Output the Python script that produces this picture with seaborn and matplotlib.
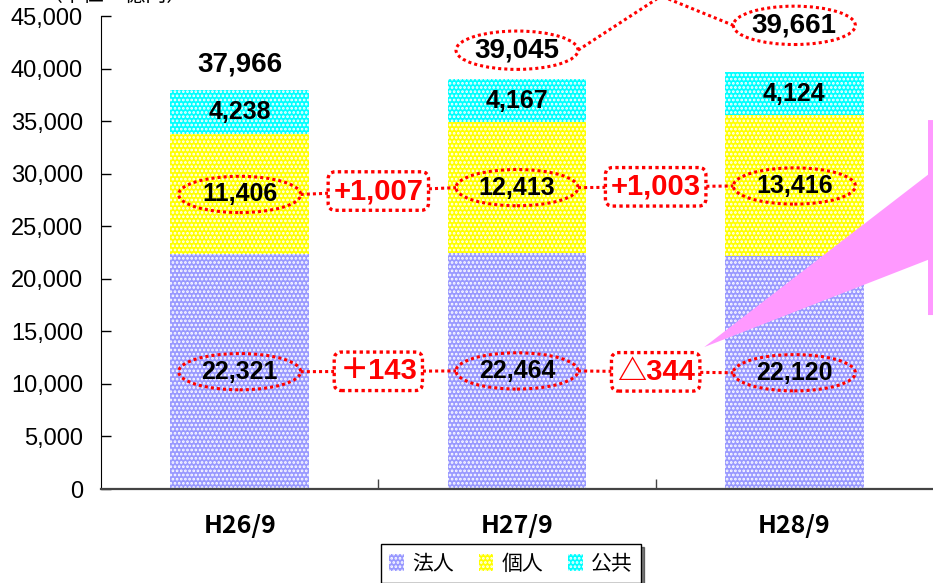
import numpy as np
import matplotlib
matplotlib.use('Agg')
import matplotlib.pyplot as plt
from matplotlib.patches import Ellipse, Patch, Polygon
import seaborn as sns

# data (億円)
periods = ['H26/9', 'H27/9', 'H28/9']
hojin = [22321, 22464, 22120]     # 法人
kojin = [11406, 12413, 13416]     # 個人
kokyo = [4238, 4167, 4124]        # 公共
totals = [37966, 39045, 39661]
diff_kojin = ['+1,007', '+1,003']
diff_hojin = ['＋143', '△344']
series_names = ['法人', '個人', '公共']

# styles
colors = ['#9999FF', '#FFFF00', '#00FFFF']
RED = '#FF0000'
HATCH = '....'
total_lift = [2400, 2700, 4450]   # how far each total label sits above its bar
ell_w, ell_h = 0.44, 3450         # dotted ellipse size (x units, y units)

sns.set_style('ticks')
plt.rcParams['font.family'] = ['Liberation Sans', 'Noto Sans CJK JP']
plt.rcParams['hatch.linewidth'] = 1.3
for k in ['text.color', 'xtick.color', 'ytick.color', 'axes.labelcolor']:
    plt.rcParams[k] = 'black'
gothic = ['Noto Sans CJK JP']
arial = ['Liberation Sans', 'Noto Sans CJK JP']
narrow = ['Liberation Sans Narrow', 'Liberation Sans']

fig = plt.figure(figsize=(9.33, 5.83), dpi=100)
ax = fig.add_axes([101 / 933, 94 / 583, 832 / 933, 473 / 583])

# stacked bars: draw cumulative heights from the top down
cum1 = np.array(hojin)
cum2 = cum1 + np.array(kojin)
cum3 = cum2 + np.array(kokyo)
for heights, c in zip([cum3, cum2, cum1], colors[::-1]):
    sns.barplot(x=periods, y=heights, color=c, saturation=1, width=0.5,
                hatch=HATCH, edgecolor='white', linewidth=0, ax=ax, zorder=2)

ax.set_xlim(-0.5, 2.5)
ax.set_ylim(0, 45000)
ax.set_yticks(np.arange(0, 45001, 5000))
ax.set_yticklabels([f'{v:,}' for v in range(0, 45001, 5000)],
                   fontsize=17, family=arial)
ax.set_xticks(range(3))
ax.set_xticklabels(periods, fontsize=18, family=gothic, fontweight='bold')
ax.set_xticks([0.5, 1.5], minor=True)
ax.tick_params(axis='x', which='major', length=0, pad=18)
ax.tick_params(axis='x', which='minor', direction='in', length=7, width=1,
               color='#444444')
ax.tick_params(axis='y', direction='in', length=7, width=1, pad=13)
ax.set_xlabel('')
ax.set_ylabel('')
sns.despine(ax=ax)
ax.spines['left'].set_color('black')
ax.spines['bottom'].set_color('#444444')
ax.spines['bottom'].set_linewidth(1.6)

dot = dict(color=RED, lw=2.2, linestyle=(0, (1, 1)))

# segment labels
mid_hojin = cum1 / 2
mid_kojin = cum1 + np.array(kojin) / 2
mid_kokyo = cum2 + np.array(kokyo) / 2
for i in range(3):
    for y, v in [(mid_hojin[i], hojin[i]), (mid_kojin[i], kojin[i]),
                 (mid_kokyo[i], kokyo[i])]:
        ax.text(i, y, f'{v:,}', ha='center', va='center', fontsize=18,
                family=narrow, fontweight='bold', zorder=6)
    for y in [mid_hojin[i], mid_kojin[i]]:
        ax.add_patch(Ellipse((i, y), ell_w, ell_h, fill=False, zorder=5,
                             ec=RED, lw=2.2, ls=(0, (1, 1))))

# totals
for i, t in enumerate(totals):
    ty = t + total_lift[i]
    ax.text(i, ty, f'{t:,}', ha='center', va='center', fontsize=20,
            family=arial, fontweight='bold', zorder=6, clip_on=False)
    if i > 0:
        ax.add_patch(Ellipse((i, ty), ell_w, 3650, fill=False, zorder=5,
                             ec=RED, lw=2.2, ls=(0, (1, 1)), clip_on=False))

# dotted link from 39,045 to 39,661 going over the top
y2 = totals[1] + total_lift[1]
y3 = totals[2] + total_lift[2]
ax.plot([1 + ell_w / 2, 1.52, 2 - ell_w / 2], [y2, 46900, y3],
        clip_on=False, zorder=5, **dot)

# change boxes with connecting dotted lines
box = dict(boxstyle='round,pad=0.18,rounding_size=0.25', fc='white', ec=RED,
           lw=2.4, ls=(0, (1, 1)))
for mids, labels in [(mid_kojin, diff_kojin), (mid_hojin, diff_hojin)]:
    for i, lab in enumerate(labels):
        ax.plot([i + ell_w / 2, i + 1 - ell_w / 2], [mids[i], mids[i + 1]],
                zorder=4, **dot)
        ax.text(i + 0.5, (mids[i] + mids[i + 1]) / 2, lab, ha='center',
                va='center', fontsize=21, color=RED, family=arial,
                fontweight='bold', bbox=box, zorder=7)

# pink callout going off the right edge
ax.add_patch(Polygon([(1.675, 13500), (2.482, 29900), (2.482, 35100),
                      (2.56, 35100), (2.56, 16550), (2.482, 16550),
                      (2.482, 21800)], closed=True, fc='#FF99FF', ec='none',
                     zorder=3, clip_on=False))

# unit label (cut by the top edge, as in the original)
fig.text(42 / 933, 1 - 1 / 583, '（単位：億円）', fontsize=15, family=gothic,
         ha='left', va='baseline')

handles = [Patch(facecolor=c, edgecolor='white', hatch=HATCH, lw=0)
           for c in colors]
leg = fig.legend(handles, series_names, loc='upper center', ncol=3,
                 bbox_to_anchor=(511 / 933, 1 - 534 / 583),
                 bbox_transform=fig.transFigure, frameon=True, fancybox=False,
                 shadow={'color': 'black'}, prop={'family': gothic, 'size': 15},
                 handlelength=0.7, handleheight=0.9, handletextpad=0.4,
                 columnspacing=1.2, borderpad=0.4)
leg.get_frame().set_edgecolor('black')
leg.get_frame().set_linewidth(1.0)

fig.savefig('out.png', dpi=100)
